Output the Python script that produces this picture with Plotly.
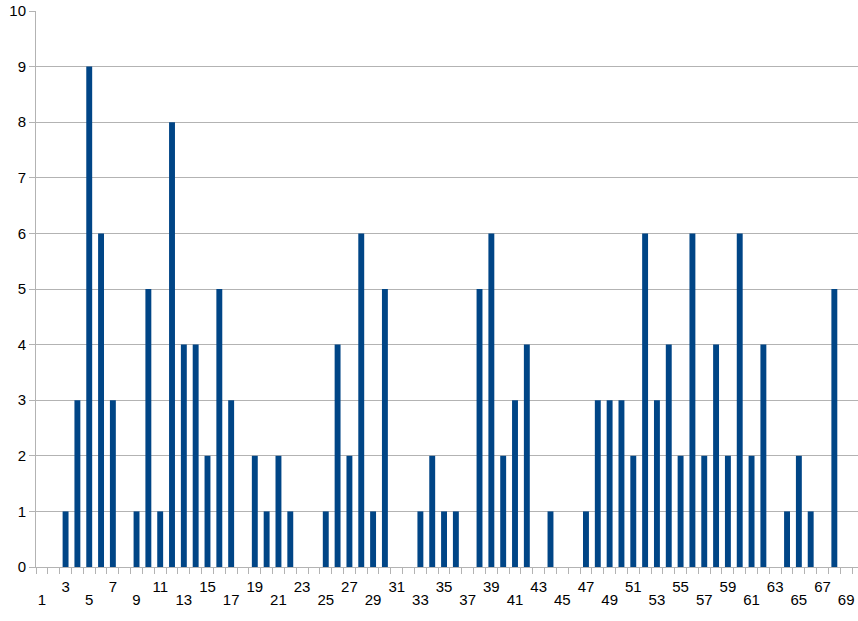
import plotly.graph_objects as go

categories = list(range(1, 70))
counts = [
    0, 0, 1, 3, 9, 6, 3, 0, 1, 5,
    1, 8, 4, 4, 2, 5, 3, 0, 2, 1,
    2, 1, 0, 0, 1, 4, 2, 6, 1, 5,
    0, 0, 1, 2, 1, 1, 0, 5, 6, 2,
    3, 4, 0, 1, 0, 0, 1, 3, 3, 3,
    2, 6, 3, 4, 2, 6, 2, 4, 2, 6,
    2, 4, 0, 1, 2, 1, 0, 5, 0,
]

# LibreOffice-style staggered labels: 3, 7, 11... on the top row, 1, 5, 9... below
upper_labels = [c for c in categories if c % 4 == 3]
lower_labels = [c for c in categories if c % 4 == 1]

GRID = "#b3b3b3"

fig = go.Figure()
fig.add_trace(go.Bar(
    x=categories,
    y=counts,
    marker=dict(color="#004586", line=dict(width=0)),
    width=0.5,
    showlegend=False,
))
# invisible copy so the second (lower label row) axis gets drawn
fig.add_trace(go.Scatter(
    x=categories,
    y=counts,
    xaxis="x2",
    mode="markers",
    marker=dict(opacity=0),
    hoverinfo="skip",
    showlegend=False,
))

fig.update_layout(
    width=858,
    height=621,
    margin=dict(l=36, r=0, t=11, b=54),
    plot_bgcolor="white",
    paper_bgcolor="white",
    font=dict(family="Liberation Sans, Arial, sans-serif", size=15, color="black"),
    xaxis=dict(
        range=[0.5, 70.0],
        automargin=False,
        tickmode="array",
        tickvals=upper_labels,
        ticktext=[str(c) for c in upper_labels],
        ticklabelstandoff=6,
        ticklabeloverflow="allow",
        ticks="",
        showgrid=False,
        showline=True,
        linecolor=GRID,
        linewidth=1,
        zeroline=False,
        minor=dict(
            tickmode="linear",
            tick0=0.5,
            dtick=1,
            ticks="outside",
            ticklen=6,
            tickcolor=GRID,
            showgrid=False,
        ),
    ),
    xaxis2=dict(
        matches="x",
        overlaying="x",
        anchor="y",
        side="bottom",
        automargin=False,
        tickmode="array",
        tickvals=lower_labels,
        ticktext=[str(c) for c in lower_labels],
        ticklabelstandoff=22,
        ticklabeloverflow="allow",
        ticks="",
        showgrid=False,
        showline=False,
        zeroline=False,
    ),
    yaxis=dict(
        range=[0, 10],
        automargin=False,
        dtick=1,
        ticklabeloverflow="allow",
        showgrid=True,
        gridcolor=GRID,
        gridwidth=1,
        showline=True,
        linecolor=GRID,
        linewidth=1,
        ticks="outside",
        ticklen=6,
        tickcolor=GRID,
        zeroline=False,
    ),
)

fig.write_html(
    "out.html",
    config={"displayModeBar": False},
    post_script="document.body.style.margin = '0';",
)
